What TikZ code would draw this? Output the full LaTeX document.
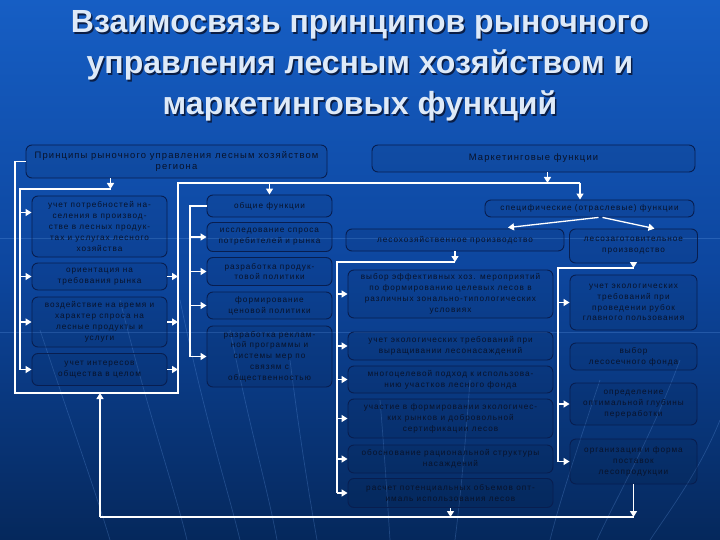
\documentclass[tikz,border=0pt]{standalone}
\usepackage{fontspec}
\setmainfont{Liberation Sans}
\newfontfamily\boxfont[LetterSpace=12]{Liberation Sans}
\usetikzlibrary{arrows.meta,calc}

\definecolor{bgtop}{RGB}{22,94,196}
\definecolor{bgmid}{RGB}{13,70,158}
\definecolor{bgbot}{RGB}{5,40,92}
\definecolor{boxline}{RGB}{8,30,80}
\definecolor{boxtext}{RGB}{8,18,42}
\definecolor{titlecol}{RGB}{222,234,248}
\definecolor{titleshade}{RGB}{10,30,70}
\definecolor{streakcol}{RGB}{110,165,240}

\tikzset{
  fbox/.style={draw=boxline, line width=0.9pt, rounded corners=6pt, fill=black, fill opacity=0.06,
    text opacity=1, text=boxtext, font=\boxfont\fontsize{8.2}{10.8}\selectfont, align=center, inner sep=1pt},
  headbox/.style={fbox, font=\boxfont\fontsize{9.4}{11.5}\selectfont},
  ttl/.style={font=\bfseries\fontsize{32}{38}\selectfont, anchor=base},
  wire/.style={draw=white, line width=1.3pt, line join=miter},
  arr/.style={wire, -{Triangle[length=6pt,width=7pt]}},
  streak/.style={draw=streakcol, line width=0.7pt, opacity=0.25},
}

\begin{document}
\begin{tikzpicture}[x=1pt,y=1pt,yscale=-1,xscale=1]
%background
\shade[top color=bgtop, bottom color=bgbot, middle color=bgmid] (0,0) rectangle (720,540);
\useasboundingbox (0,0) rectangle (720,540);
%faint streaks
\draw[streak] (0,238) -- (720,238);
\draw[streak] (0,332) -- (720,332);
\draw[streak] (40,330) .. controls (70,420) and (95,490) .. (110,540);
\draw[streak] (120,300) .. controls (150,420) and (175,490) .. (187,540);
\draw[streak] (180,300) .. controls (205,420) and (228,490) .. (240,540);
\draw[streak] (230,330) .. controls (250,430) and (268,490) .. (277,540);
\draw[streak] (290,360) .. controls (300,440) and (310,500) .. (317,540);
\draw[streak] (380,400) .. controls (385,460) and (388,510) .. (390,540);
\draw[streak] (470,380) .. controls (465,450) and (460,500) .. (455,540);
\draw[streak] (600,380) .. controls (580,440) and (560,500) .. (550,540);
\draw[streak] (680,360) .. controls (650,440) and (615,500) .. (597,540);
\draw[streak] (720,420) .. controls (700,470) and (670,510) .. (650,540);

% Title
\node[ttl, text=titleshade] (t1s) at (361.5,34.5) {Взаимосвязь принципов рыночного};
\node[ttl, text=titleshade] (t2s) at (361.5,75.5) {управления лесным хозяйством и};
\node[ttl, text=titleshade] (t3s) at (361.5,116.5) {маркетинговых функций};
\node[ttl, text=titlecol] (t1) at (360,33) {Взаимосвязь принципов рыночного};
\node[ttl, text=titlecol] (t2) at (360,74) {управления лесным хозяйством и};
\node[ttl, text=titlecol] (t3) at (360,115) {маркетинговых функций};

% Top boxes
\node[headbox, minimum width=301, minimum height=33] (p) at (176.5,161.5) {Принципы рыночного управления лесным хозяйством\\региона};
\node[headbox, minimum width=323, minimum height=27] (m) at (533.5,158.5) {Маркетинговые функции};

% Left column
\node[fbox, minimum width=135, minimum height=61] (l1) at (99.5,226.5) {учет потребностей на-\\селения в производ-\\стве в лесных продук-\\тах и услугах лесного\\хозяйства};
\node[fbox, minimum width=135, minimum height=27] (l2) at (99.5,276.5) {ориентация на\\требования рынка};
\node[fbox, minimum width=135, minimum height=50] (l3) at (99.5,322) {воздействие на время и\\характер спроса на\\лесные продукты и\\услуги};
\node[fbox, minimum width=135, minimum height=32] (l4) at (99.5,369.5) {учет интересов\\общества в целом};

% Middle column
\node[fbox, minimum width=125, minimum height=22] (c1) at (269.5,206) {общие функции};
\node[fbox, minimum width=125, minimum height=29] (c2) at (269.5,237) {исследование спроса\\потребителей и рынка};
\node[fbox, minimum width=125, minimum height=28] (c3) at (269.5,271.5) {разработка продук-\\товой политики};
\node[fbox, minimum width=125, minimum height=27] (c4) at (269.5,305.5) {формирование\\ценовой политики};
\node[fbox, minimum width=125, minimum height=61] (c5) at (269.5,356.5) {разработка реклам-\\ной программы и\\системы мер по\\связям с\\общественностью};

% Specific functions
\node[fbox, minimum width=209, minimum height=17] (s) at (589.5,208.5) {специфические (отраслевые) функции};
\node[fbox, minimum width=218, minimum height=22] (lh) at (455,240) {лесохозяйственное производство};
\node[fbox, minimum width=128, minimum height=34] (lz) at (633.5,246) {лесозаготовительное\\производство};

% Forestry column
\node[fbox, minimum width=205, minimum height=48] (r1) at (450.5,294) {выбор эффективных хоз. мероприятий\\по формированию целевых лесов в\\различных зонально-типологических\\условиях};
\node[fbox, minimum width=205, minimum height=28] (r2) at (450.5,346) {учет экологических требований при\\выращивании лесонасаждений};
\node[fbox, minimum width=205, minimum height=27] (r3) at (450.5,379.5) {многоцелевой подход к использова-\\нию участков лесного фонда};
\node[fbox, minimum width=205, minimum height=39] (r4) at (450.5,418.5) {участие в формировании экологичес-\\ких рынков и добровольной\\сертификации лесов};
\node[fbox, minimum width=205, minimum height=28] (r5) at (450.5,459) {обоснование рациональной структуры\\насаждений};
\node[fbox, minimum width=205, minimum height=29] (r6) at (450.5,493) {расчет потенциальных объемов опт-\\ималь использования лесов};

% Logging column
\node[fbox, minimum width=127, minimum height=55] (f1) at (633.5,302.5) {учет экологических\\требований при\\проведении рубок\\главного пользования};
\node[fbox, minimum width=127, minimum height=27] (f2) at (633.5,356.5) {выбор\\лесосечного фонда};
\node[fbox, minimum width=127, minimum height=42] (f3) at (633.5,404) {определение\\оптимальной глубины\\переработки};
\node[fbox, minimum width=127, minimum height=45] (f4) at (633.5,461.5) {организация и форма\\поставок\\лесопродукции};

%Straight Lines: outer loop
\coordinate (loopL) at (15,393);
\coordinate (loopR) at (178,393);
\coordinate (topR) at (178,183);
\coordinate (topE) at (580,183);
\coordinate (mout) at ($(m.south)+(14,0)$);
\draw[wire] (p.west) -| (loopL) -- (loopR) -- (topR) -- (topE);
\draw[arr] (topE) -- (topE |- s.north);
\draw[arr] (topR -| c1.north) -- (c1.north);
\draw[arr] (mout) -- (mout |- topR);
\foreach \n in {l2,l3,l4} \draw[arr] (\n.east) -- (\n.east -| loopR);

%Straight Lines: principles
\coordinate (lsp) at (20,189);
\coordinate (pout) at ($(p.south)+(-66,0)$);
\coordinate (l1in) at ($(l1.west)+(0,-14)$);
\draw[arr] (pout) -- (pout |- lsp);
\draw[wire] (pout |- lsp) -- (lsp) -- (lsp |- l4.west);
\draw[arr] (l1in -| lsp) -- (l1in);
\foreach \n in {l2,l3,l4} \draw[arr] (lsp |- \n.west) -- (\n.west);

%Straight Lines: general functions
\coordinate (csp) at (190,206);
\draw[wire] (c1.west) -- (csp) -- (csp |- c5.west);
\foreach \n in {c2,c3,c4,c5} \draw[arr] (csp |- \n.west) -- (\n.west);

%Straight Lines: specific functions
\draw[arr] ($(s.south)+(9,0)$) -- ($(lh.north)+(53,-1)$);
\draw[arr] ($(s.south)+(13,0)$) -- ($(lz.north)+(21,0)$);

\coordinate (rsp) at (337,262);
\draw[arr] (lh.south) -- (lh.south |- rsp);
\draw[wire] (lh.south |- rsp) -- (rsp) -- (rsp |- r6.west);
\foreach \n in {r1,r2,r3,r4,r5,r6} \draw[arr] (rsp |- \n.west) -- (\n.west);

\coordinate (fsp) at (558,268);
\draw[arr] (lz.south) -- (lz.south |- fsp);
\draw[wire] (lz.south |- fsp) -- (fsp) -- (fsp |- f4.west);
\foreach \n in {f1,f3,f4} \draw[arr] (fsp |- \n.west) -- (\n.west);

%Straight Lines: return
\coordinate (bot) at (100,517);
\draw[arr] (r6.south) -- (r6.south |- bot);
\draw[arr] (f4.south) -- (f4.south |- bot);
\draw[wire] (f4.south |- bot) -- (bot);
\draw[arr] (bot) -- (bot |- loopL);
\end{tikzpicture}
\end{document}
